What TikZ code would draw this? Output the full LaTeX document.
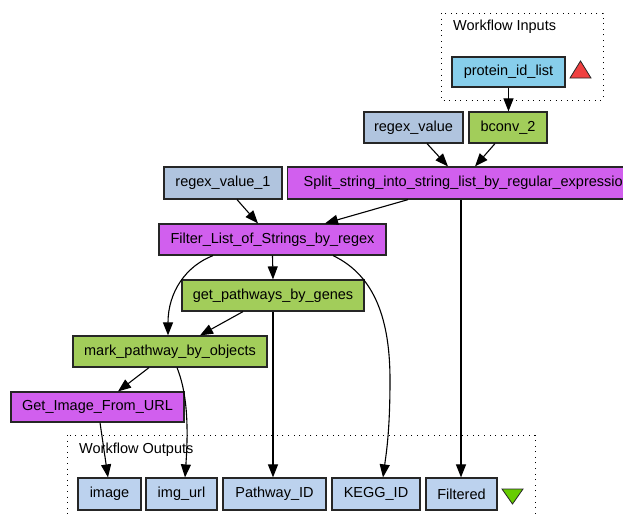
\documentclass[tikz,border=0pt]{standalone}
\usepackage{fontspec}
\setmainfont{Liberation Sans}
\usetikzlibrary{arrows.meta}
\definecolor{orchidc}{HTML}{D15FEE}
\definecolor{wsdlc}{HTML}{A2CD5A}
\definecolor{constc}{HTML}{B0C4DE}
\definecolor{outc}{HTML}{BCD2EE}
\definecolor{inc}{HTML}{87CEEB}
\definecolor{redtri}{HTML}{F04040}
\definecolor{greentri}{HTML}{66CD00}
\begin{document}
\begin{tikzpicture}[x=1pt,y=-1pt,
  box/.style={draw=black!85, line width=1.2pt, inner sep=0pt, font=\fontsize{14.5}{17}\selectfont},
  lbl/.style={inner sep=0pt, anchor=west, font=\fontsize{14.5}{17}\selectfont},
  conn/.style={-{Triangle[length=13pt,width=10pt]}, line width=1.1pt},
  clusterbox/.style={line width=1pt, dash pattern=on 1pt off 4.6pt}]
\useasboundingbox (0,0) rectangle (623,517);
\clip (0,0) rectangle (623,517);

% clusters
\draw[clusterbox] (441,13) rectangle (603,100);
\draw[clusterbox] (67,435) rectangle (535,540);
\node[lbl] (inlbl) at (453,27) {Workflow Inputs};
\node[lbl] (outlbl) at (79,450) {Workflow Outputs};

% nodes
\node[box, fill=inc, minimum width=113pt, minimum height=30pt] (pil) at (508.5,72) {protein\_id\_list};
\node[box, fill=constc, minimum width=99pt, minimum height=31pt] (regval) at (413.5,127.5) {regex\_value};
\node[box, fill=wsdlc, minimum width=78pt, minimum height=31pt] (bconv) at (508,127.5) {bconv\_2};
\node[box, fill=orchidc, anchor=west, minimum height=32pt, inner xsep=16pt] (split) at (287,183) {Split\_string\_into\_string\_list\_by\_regular\_expression};
\node[box, fill=constc, minimum width=118pt, minimum height=32pt] (rv1) at (223,183) {regex\_value\_1};
\node[box, fill=orchidc, minimum width=227pt, minimum height=31pt] (filter) at (272.5,239.5) {Filter\_List\_of\_Strings\_by\_regex};
\node[box, fill=wsdlc, minimum width=182pt, minimum height=31pt] (gp) at (273,295.5) {get\_pathways\_by\_genes};
\node[box, fill=wsdlc, minimum width=194pt, minimum height=31pt] (mp) at (170,351.5) {mark\_pathway\_by\_objects};
\node[box, fill=orchidc, minimum width=173pt, minimum height=30pt] (gi) at (97.5,407) {Get\_Image\_From\_URL};
\node[box, fill=outc, minimum width=63pt, minimum height=32pt] (image) at (109.5,494) {image};
\node[box, fill=outc, minimum width=71pt, minimum height=32pt] (imgurl) at (181.5,494) {img\_url};
\node[box, fill=outc, minimum width=103pt, minimum height=32pt] (pathway) at (274.5,494) {Pathway\_ID};
\node[box, fill=outc, minimum width=88pt, minimum height=32pt] (kegg) at (376,494) {KEGG\_ID};
\node[box, fill=outc, minimum width=71pt, minimum height=32pt] (filtered) at (461.5,494) {Filtered};

% port triangles
\draw[fill=redtri, draw=black!85, line width=0.8pt] (570,78) -- (591,78) -- (580.5,61) -- cycle;
\draw[fill=greentri, draw=black!85, line width=0.8pt] (502,489) -- (523,489) -- (512.5,504) -- cycle;

% connectors
\draw[conn] (pil.south) -- (bconv.north -| pil.south);
\draw[conn] ([xshift=13.5pt]regval.south) -- ([xshift=161pt]split.north west);
\draw[conn] ([xshift=-13pt]bconv.south) -- ([xshift=188pt]split.north west);
\draw[conn] ([xshift=14pt]rv1.south) -- ([xshift=-14.5pt]filter.north);
\draw[conn] ([xshift=121pt]split.south west) -- ([xshift=52.5pt]filter.north);
\draw[conn] ([xshift=174pt]split.south west) -- ([xshift=-0.5pt]filtered.north);
\draw[conn] (filter.south) -- (gp.north);
\draw[conn] ([xshift=-59.5pt]filter.south) .. controls (186,266) and (168,292) .. ([xshift=-2pt]mp.north);
\draw[conn] ([xshift=60.5pt]filter.south) .. controls (376,276) and (390,322) .. (390,380)
   .. controls (390,432) and (386,455) .. ([xshift=7pt]kegg.north);
\draw[conn] ([xshift=-30pt]gp.south) -- ([xshift=30pt]mp.north);
\draw[conn] (gp.south) -- (gp.south |- pathway.north);
\draw[conn] ([xshift=-21pt]mp.south) -- ([xshift=20.5pt]gi.north);
\draw[conn] ([xshift=7pt]mp.south) .. controls (186,390) and (189,420) .. ([xshift=3.5pt]imgurl.north);
\draw[conn] ([xshift=2.5pt]gi.south) -- ([xshift=-1.5pt]image.north);
\end{tikzpicture}
\end{document}
